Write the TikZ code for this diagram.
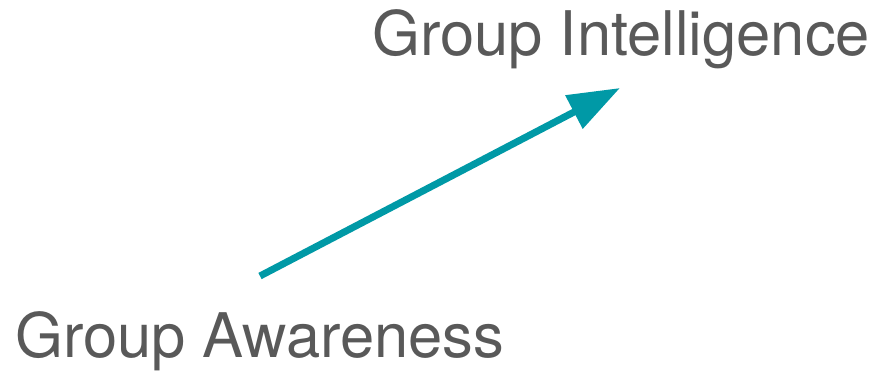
\documentclass[tikz,border=0pt]{standalone}
\usepackage{fontspec}
\setmainfont{TeX Gyre Heros}
\usetikzlibrary{arrows.meta}
\definecolor{labelgray}{HTML}{595959}
\definecolor{arrowteal}{HTML}{0099A6}
\begin{document}
\begin{tikzpicture}[x=1pt, y=-1pt,
	grouplabel/.style={inner sep=0pt, text=labelgray, font=\fontsize{61.5}{61.5}\selectfont, anchor=base west}]
	\def\shaftw{7pt};
	\useasboundingbox (0,0) rectangle (875,372);
	\node[grouplabel] (intel) at (372,55) {Group Intelligence};
	\node[grouplabel] (aware) at (15,357) {Group Awareness};
	\coordinate (tail) at (260,276);
	\coordinate (tip) at (620,88);
	\draw[arrowteal, line width=\shaftw, -{Triangle[length=52pt,width=36pt]}] (tail) -- (tip);
\end{tikzpicture}
\end{document}
